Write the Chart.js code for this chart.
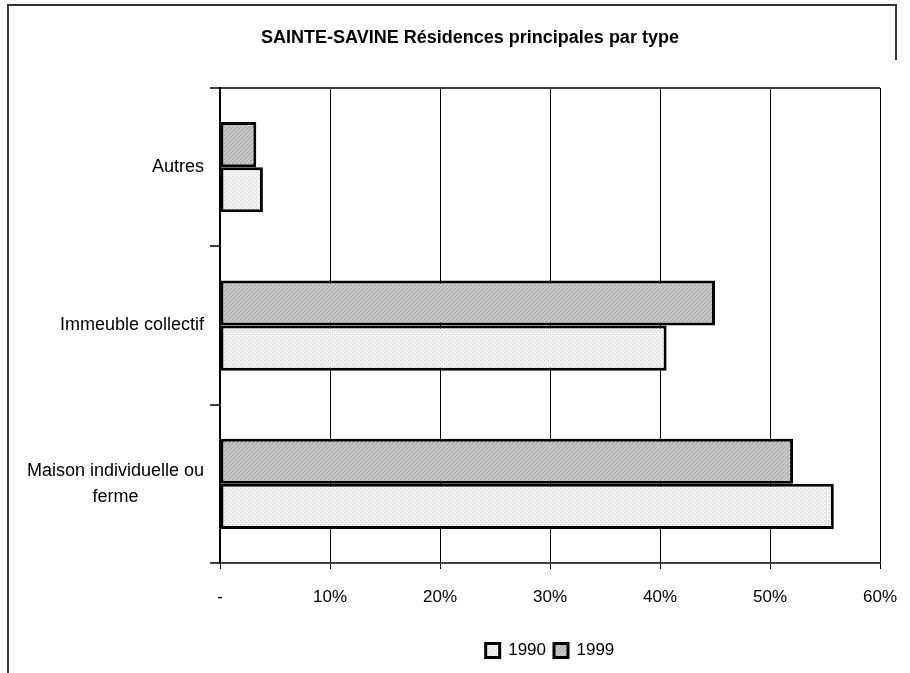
<!DOCTYPE html>
<html>
<head>
<meta charset="utf-8">
<script src="https://cdn.jsdelivr.net/npm/chart.js@4.4.1/dist/chart.umd.min.js"></script>
<style>
  body { margin: 0; background: #fff; }
  #wrap { width: 910px; height: 673px; }
</style>
</head>
<body>
<div id="wrap"><canvas id="barChart" width="910" height="673"></canvas></div>
<script>
// data
var categories = ["Autres", "Immeuble collectif", ["Maison individuelle ou", "ferme"]];
var values1990 = [3.9, 40.6, 55.8];
var values1999 = [3.3, 45.0, 52.1];
var tickLabels = ["-", "10%", "20%", "30%", "40%", "50%", "60%"];
var chartTitle = "SAINTE-SAVINE Résidences principales par type";

var FONT = "'Liberation Sans', Arial, sans-serif";

// little fill textures like the old spreadsheet patterns
function makePattern(bg, fg, kind) {
    var c = document.createElement("canvas");
    c.width = 4; c.height = 4;
    var g = c.getContext("2d");
    g.fillStyle = bg;
    g.fillRect(0, 0, 4, 4);
    g.fillStyle = fg;
    if (kind === "diag") {
        for (var i = 0; i < 4; i++) g.fillRect(i, 3 - i, 1, 1);
    } else {
        g.fillRect(0, 0, 1, 1);
        g.fillRect(2, 2, 1, 1);
    }
    return g.createPattern(c, "repeat");
}
var fill1999 = makePattern("#c6c6c6", "#a8a8a8", "diag");
var fill1990 = makePattern("#f2f2f2", "#cdcdcd", "dots");

var decorPlugin = {
    id: "decor",
    afterDraw: function (chart) {
        var ctx = chart.ctx;
        var yScale = chart.scales.y;
        ctx.save();
        // outer frame
        ctx.strokeStyle = "#333";
        ctx.lineWidth = 2;
        ctx.beginPath();
        ctx.moveTo(8, 673);
        ctx.lineTo(8, 5);
        ctx.lineTo(896, 5);
        ctx.lineTo(896, 60);
        ctx.stroke();
        // title
        ctx.fillStyle = "#000";
        ctx.font = "bold 18px " + FONT;
        ctx.textAlign = "center";
        ctx.textBaseline = "middle";
        ctx.fillText(chartTitle, 470, 38);
        // category labels, lines centred inside their block
        ctx.font = "18px " + FONT;
        var lineH = 26;
        categories.forEach(function (lab, i) {
            var lines = Array.isArray(lab) ? lab : [lab];
            var w = 0;
            lines.forEach(function (l) { w = Math.max(w, ctx.measureText(l).width); });
            var cx = 204 - w / 2;
            var cy = yScale.getPixelForValue(i);
            lines.forEach(function (l, k) {
                ctx.fillText(l, cx, cy + (k - (lines.length - 1) / 2) * lineH);
            });
        });
        ctx.restore();
    }
};

var ctx = document.getElementById("barChart");
var myChart = new Chart(ctx, {
    type: 'bar',
    data: {
        labels: categories,
        datasets: [{
            label: "1999",
            data: values1999,
            backgroundColor: fill1999,
            borderColor: "#000",
            borderWidth: 3,
            borderSkipped: false
        }, {
            label: "1990",
            data: values1990,
            backgroundColor: fill1990,
            borderColor: "#000",
            borderWidth: 3,
            borderSkipped: false
        }]
    },
    plugins: [decorPlugin],
    options: {
        indexAxis: 'y',
        responsive: false,
        animation: false,
        categoryPercentage: 0.57,
        barPercentage: 1.0,
        layout: {
            padding: { left: 0, right: 30, top: 88, bottom: 4 }
        },
        scales: {
            x: {
                min: 0,
                max: 60,
                ticks: {
                    stepSize: 10,
                    color: "#000",
                    padding: 18,
                    font: { family: FONT, size: 17 },
                    callback: function (v, i) { return tickLabels[i]; }
                },
                grid: {
                    color: "#000",
                    lineWidth: 1,
                    tickLength: 6
                },
                border: { color: "#404040", width: 2 },
                afterFit: function (scale) {
                    scale.height = 71;
                    scale.paddingLeft = 0;
                    scale.paddingRight = 0;
                }
            },
            y: {
                ticks: { display: false },
                grid: {
                    offset: true,
                    color: function (c) { return c.index === 0 ? "#404040" : "transparent"; },
                    tickColor: "#404040",
                    lineWidth: 2,
                    tickLength: 10
                },
                border: { color: "#000", width: 2 },
                afterFit: function (scale) { scale.width = 220; }
            }
        },
        plugins: {
            title: { display: false },
            tooltip: { enabled: false },
            legend: {
                position: 'bottom',
                fullSize: false,
                reverse: true,
                labels: {
                    color: "#000",
                    boxWidth: 14,
                    boxHeight: 14,
                    padding: 8,
                    font: { family: FONT, size: 17 }
                }
            }
        }
    }
});
</script>
</body>
</html>
